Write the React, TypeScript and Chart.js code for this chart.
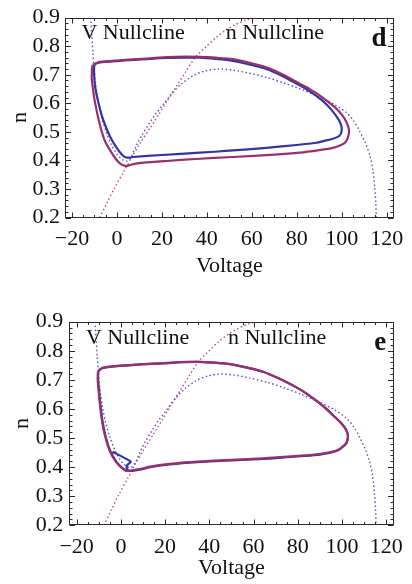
import React, { useEffect, useRef } from 'react';
import { Chart, registerables } from 'chart.js';

Chart.register(...registerables);

const FONT = '"Liberation Serif", "Times New Roman", serif';

// Axis ticks
const xTicks = [-20, 0, 20, 40, 60, 80, 100, 120];
const yTicks = [0.2, 0.3, 0.4, 0.5, 0.6, 0.7, 0.8, 0.9];
const xMinorStep = 5;
const yMinorStep = 0.02;
const xRange = [-23.33, 123.33];
const yRange = [0.2, 0.9];

// V nullcline (blue dotted), [Voltage, n]
const vNullcline: number[][] = [
  [-11.7, 0.9], [-11.2, 0.84], [-10.7, 0.78], [-10.2, 0.73], [-9.5, 0.67], [-8.4, 0.61],
  [-6.8, 0.55], [-4.8, 0.5], [-2.5, 0.455], [0, 0.422], [2.5, 0.403], [4.5, 0.398],
  [6.5, 0.415], [8.5, 0.45], [11, 0.487], [14, 0.525], [17, 0.56], [20.5, 0.595],
  [24.5, 0.635], [29, 0.67], [34, 0.697], [39, 0.713], [45, 0.72], [51.7, 0.716],
  [58, 0.707], [66.5, 0.691], [74, 0.672], [81.3, 0.651], [90.2, 0.622], [97, 0.595],
  [102, 0.568], [105.5, 0.537], [108, 0.502], [110.5, 0.462], [112.4, 0.421],
  [113.8, 0.37], [114.7, 0.306], [115.2, 0.25], [115.4, 0.2],
];

// n nullcline (red dotted)
const nNullcline: number[][] = [
  [-7.6, 0.2], [-4.5, 0.25], [-0.9, 0.306], [3, 0.36], [6.5, 0.41], [10.5, 0.462],
  [14.7, 0.513], [18.5, 0.56], [22.1, 0.605], [26.5, 0.66], [31, 0.715], [35, 0.762],
  [39.9, 0.8], [44, 0.83], [48.7, 0.858], [53, 0.877], [57.6, 0.892], [60.6, 0.9],
];

// Panel d: trajectories
const dBlue: number[][] = [
  [-10.1, 0.732], [-9.3, 0.739], [-7.5, 0.743], [0, 0.748], [7.3, 0.752], [15, 0.756],
  [22.1, 0.759], [30, 0.76], [36.9, 0.76], [44, 0.756], [51.7, 0.749], [59, 0.736],
  [66.5, 0.72], [74, 0.694], [81.3, 0.663], [86, 0.641], [90.2, 0.617], [93.5, 0.594],
  [96.1, 0.571], [98, 0.551], [99.3, 0.533], [100, 0.515], [99.8, 0.497], [98.8, 0.485],
  [96.1, 0.476], [92, 0.468], [88.7, 0.462], [80, 0.454], [66.5, 0.444], [50, 0.434],
  [36.9, 0.427], [20, 0.419], [7.3, 0.412], [5.5, 0.41], [4, 0.41], [2.5, 0.418],
  [-0.1, 0.444], [-3.1, 0.484], [-5.3, 0.525], [-6.8, 0.559], [-8.3, 0.605], [-9.0, 0.628],
  [-9.8, 0.663], [-10.2, 0.709], [-10.1, 0.732],
];

const dRed: number[][] = [
  [-10.8, 0.734], [-9, 0.741], [-7.6, 0.745], [0, 0.75], [7.3, 0.754],
  [15, 0.758], [22.1, 0.762], [30, 0.764], [36.9, 0.763], [44, 0.76], [51.7, 0.755],
  [59, 0.742], [66.5, 0.726], [74, 0.7], [81.3, 0.669], [86, 0.649], [90.2, 0.628],
  [94, 0.605], [97.6, 0.582], [100.3, 0.558], [102, 0.536], [103.2, 0.51], [103.1, 0.49],
  [102, 0.467], [100, 0.455], [96.1, 0.444], [90, 0.436], [81.3, 0.427], [70, 0.42],
  [51.7, 0.412], [35, 0.405], [22.1, 0.398], [12, 0.392], [7.3, 0.387], [5.5, 0.383],
  [3.6, 0.381], [1.3, 0.39], [-0.5, 0.405], [-3.1, 0.436], [-5.3, 0.467], [-6.8, 0.502],
  [-8.3, 0.548], [-9.8, 0.605], [-10.5, 0.64], [-11.2, 0.686], [-11.1, 0.72], [-10.8, 0.734],
];

// Panel e: trajectories
const eBlue: number[][] = [
  [-3.8, 0.453], [4.4, 0.419], [2.9, 0.407], [2.6, 0.396], [3.6, 0.388], [5.9, 0.388],
  [10.3, 0.394], [12.5, 0.399], [22, 0.409], [34.7, 0.417], [50, 0.423], [64.3, 0.428],
  [75, 0.434], [86.4, 0.44], [93, 0.447], [98.2, 0.458], [101.9, 0.481], [102.7, 0.505],
  [101.9, 0.528], [99.8, 0.55], [96.7, 0.573], [92.5, 0.603], [87.9, 0.631], [84, 0.653],
  [79, 0.676], [72, 0.703], [64.3, 0.728], [57, 0.742], [49.4, 0.754], [42, 0.759],
  [34.7, 0.762], [27, 0.761], [19.9, 0.757], [8.8, 0.753], [-1.6, 0.747], [-7.4, 0.742],
  [-9.4, 0.736], [-10.2, 0.726], [-10.3, 0.7], [-9.9, 0.665], [-9.5, 0.631], [-8.4, 0.562],
  [-6.9, 0.505], [-5.0, 0.459], [-2.1, 0.419], [0.8, 0.396], [2.9, 0.387], [5.9, 0.389],
  [10.3, 0.395],
];

const eRed: number[][] = [
  [-10.4, 0.728], [-9.2, 0.738], [-7.4, 0.743], [-1.6, 0.748], [8.8, 0.753], [19.9, 0.758],
  [27, 0.761], [34.7, 0.762], [42, 0.759], [49.4, 0.754], [57, 0.742], [64.3, 0.728],
  [72, 0.703], [79, 0.676], [84, 0.653], [87.9, 0.631], [92.5, 0.603], [96.7, 0.573],
  [99.8, 0.55], [101.9, 0.528], [102.7, 0.505], [101.9, 0.482], [98.2, 0.459], [93, 0.449],
  [86.4, 0.442], [75, 0.436], [64.3, 0.43], [50, 0.425], [34.7, 0.419], [22, 0.411],
  [12.5, 0.401], [10.3, 0.396], [5.9, 0.39], [2.9, 0.387], [0.7, 0.396], [-2.3, 0.419],
  [-5.2, 0.459], [-7.1, 0.505], [-8.6, 0.562], [-9.7, 0.631], [-10.1, 0.665], [-10.5, 0.7],
  [-10.4, 0.728],
];

// Text annotations
const nullclineLabels = ['V Nullcline', 'n Nullcline'];
const nullclineLabelAnchors = [[-15.8, 0.824], [48.4, 0.824]];
const panelLetters = ['d', 'e'];
const panelLetterAnchor = [120, 0.802];

const BLUE = 'rgb(52, 52, 158)';
const RED = 'rgb(152, 48, 108)';
const BLUE_DOT = 'rgb(80, 80, 215)';
const RED_DOT = 'rgb(200, 70, 120)';

function series(data: number[][], color: string, width: number, dash: number[], tension: number) {
  return {
    data: data.map(([x, y]) => ({ x, y })),
    borderColor: color,
    backgroundColor: color,
    borderWidth: width,
    borderDash: dash,
    pointRadius: 0,
    showLine: true,
    fill: false,
    tension,
    clip: 0,
  };
}

function makeFramePlugin(letter: string) {
  return {
    id: 'frame',
    afterDraw(chart: any) {
      const { ctx, chartArea: a, scales } = chart;
      const x = scales.x;
      const y = scales.y;
      ctx.save();
      ctx.strokeStyle = '#2a2a2a';
      ctx.lineWidth = 1;
      const L = Math.round(a.left) + 0.5;
      const R = Math.round(a.right) - 0.5;
      const T = Math.round(a.top) + 0.5;
      const B = Math.round(a.bottom) - 0.5;
      ctx.strokeRect(L, T, R - L, B - T);
      ctx.beginPath();
      for (let v = xTicks[0]; v <= xTicks[xTicks.length - 1] + 1e-9; v += xMinorStep) {
        const major = Math.abs(v / 20 - Math.round(v / 20)) < 1e-6;
        const len = major ? 5 : 2.5;
        const px = Math.round(x.getPixelForValue(v)) + 0.5;
        ctx.moveTo(px, B); ctx.lineTo(px, B - len);
        ctx.moveTo(px, T); ctx.lineTo(px, T + len);
      }
      for (let i = 0; i <= 35; i++) {
        const v = yRange[0] + i * yMinorStep;
        const major = i % 5 === 0;
        const len = major ? 5.5 : 3;
        const py = Math.round(y.getPixelForValue(v)) + 0.5;
        ctx.moveTo(L, py); ctx.lineTo(L + len, py);
        ctx.moveTo(R, py); ctx.lineTo(R - len, py);
      }
      ctx.stroke();

      ctx.fillStyle = '#111';
      ctx.textBaseline = 'alphabetic';
      ctx.font = `22px ${FONT}`;
      ctx.textAlign = 'left';
      nullclineLabels.forEach((t, i) => {
        const [vx, vy] = nullclineLabelAnchors[i];
        ctx.fillText(t, x.getPixelForValue(vx), y.getPixelForValue(vy));
      });
      ctx.font = `bold 27px ${FONT}`;
      ctx.textAlign = 'right';
      ctx.fillText(letter, x.getPixelForValue(panelLetterAnchor[0]), y.getPixelForValue(panelLetterAnchor[1]));
      ctx.restore();
    },
  };
}

interface Panel {
  letter: string;
  blue: number[][];
  red: number[][];
  padTop: number;
  padRight: number;
  yWidth: number;
  xHeight: number;
  xTitlePad: number;
  yTitlePad: number;
  xTickPad: number;
  yTickPad: number;
}

const panels: Panel[] = [
  { letter: panelLetters[0], blue: dBlue, red: dRed, padTop: 14, padRight: 16.5, yWidth: 64.5, xHeight: 74.5, xTitlePad: 12.4, yTitlePad: 7.4, xTickPad: 8.5, yTickPad: 4.5 },
  { letter: panelLetters[1], blue: eBlue, red: eRed, padTop: 29.7, padRight: 12, yWidth: 69.3, xHeight: 58.7, xTitlePad: 2.3, yTitlePad: 9, xTickPad: 9, yTickPad: 6 },
];

function makeChart(canvas: HTMLCanvasElement, p: Panel) {
  return new Chart(canvas, {
    type: 'scatter',
    data: {
      datasets: [
        series(p.red, RED, 2.2, [], 0.2),
        series(p.blue, BLUE, 2.2, [], 0.2),
        series(vNullcline, BLUE_DOT, 1.4, [1.5, 2.5], 0.3),
        series(nNullcline, RED_DOT, 1.4, [1.5, 2.5], 0.3),
      ] as any,
    },
    options: {
      animation: false,
      responsive: false,
      devicePixelRatio: 1,
      layout: { padding: { top: p.padTop, right: p.padRight, left: 0, bottom: 0 } },
      plugins: { legend: { display: false }, tooltip: { enabled: false } },
      events: [],
      scales: {
        x: {
          type: 'linear',
          min: xRange[0],
          max: xRange[1],
          grid: { display: false, drawTicks: false },
          border: { display: false },
          afterBuildTicks: (s: any) => { s.ticks = xTicks.map((value) => ({ value })); },
          afterFit: (s: any) => { s.height = p.xHeight; },
          ticks: {
            padding: p.xTickPad,
            color: '#111',
            font: { family: FONT, size: 22 },
            maxRotation: 0,
            autoSkip: false,
            callback: (v: any) => (v < 0 ? '\u2212' + Math.abs(v) : String(v)),
          },
          title: {
            display: true,
            text: 'Voltage',
            color: '#111',
            font: { family: FONT, size: 22 },
            padding: { top: 0, bottom: p.xTitlePad },
          },
        },
        y: {
          type: 'linear',
          min: yRange[0],
          max: yRange[1],
          grid: { display: false, drawTicks: false },
          border: { display: false },
          afterBuildTicks: (s: any) => { s.ticks = yTicks.map((value) => ({ value })); },
          afterFit: (s: any) => { s.width = p.yWidth; },
          ticks: {
            padding: p.yTickPad,
            color: '#111',
            font: { family: FONT, size: 22 },
            autoSkip: false,
            callback: (v: any) => Number(v).toFixed(1),
          },
          title: {
            display: true,
            text: 'n',
            color: '#111',
            font: { family: FONT, size: 22 },
            padding: { top: p.yTitlePad, bottom: 0 },
          },
        },
      },
    } as any,
    plugins: [makeFramePlugin(p.letter)],
  });
}

export default function App() {
  const topRef = useRef<HTMLCanvasElement>(null);
  const botRef = useRef<HTMLCanvasElement>(null);

  useEffect(() => {
    const charts: Chart[] = [];
    if (topRef.current) charts.push(makeChart(topRef.current, panels[0]));
    if (botRef.current) charts.push(makeChart(botRef.current, panels[1]));
    return () => charts.forEach((c) => c.destroy());
  }, []);

  return (
    <div style={{ position: 'absolute', left: 0, top: 0, width: 412, height: 584, background: '#fff' }}>
      <canvas ref={topRef} width={412} height={292} style={{ position: 'absolute', left: 0, top: 0, width: 412, height: 292 }} />
      <canvas ref={botRef} width={412} height={292} style={{ position: 'absolute', left: 0, top: 292, width: 412, height: 292 }} />
    </div>
  );
}
